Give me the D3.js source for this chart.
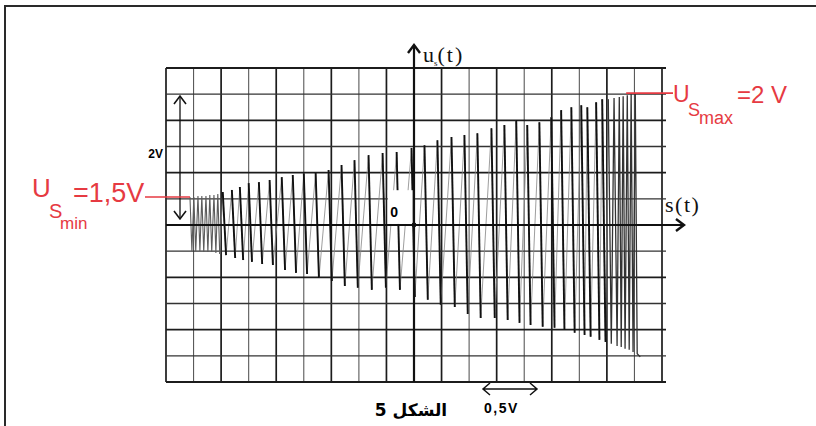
<!DOCTYPE html>
<html lang="ar">
<head>
<meta charset="UTF-8">
<script src="https://d3js.org/d3.v7.min.js"></script>
<title>الشكل 5</title>
<style>
  body { margin: 0; background: #fff; }
  svg { display: block; }
</style>
</head>
<body>
<script>
// screen divisions: 18 columns, 12 rows, origin in the middle
const xDomain = [-9, 9];
const yDomain = [-6, 6];

// dense start of the trace (t in columns, u in rows), alternating crest / trough
const leftT = [-8.13, -8.06, -7.99, -7.92, -7.84, -7.77, -7.70, -7.63, -7.55, -7.48, -7.41, -7.34, -7.26, -7.19, -7.12, -7.05];
const leftU = [1.07, -0.99, 1.07, -0.99, 1.11, -0.99, 1.11, -1.03, 1.11, -1.03, 1.15, -1.03, 1.15, -1.07, 1.18, -1.11];

// separate spikes: crest then trough
const crestT = [-6.94, -6.61, -6.32, -6.00, -5.63, -5.24, -4.80, -4.40, -4.00, -3.57,
  -3.10, -2.63, -2.16, -1.65, -1.14, -0.63, -0.09, 0.38, 0.85, 1.36,
  1.83, 2.30, 2.81, 3.28, 3.71, 4.11, 4.55, 4.98, 5.34, 5.71,
  6.07, 6.29, 6.61, 6.83];
const crestU = [1.26, 1.34, 1.45, 1.60, 1.64, 1.72, 1.83, 1.91, 1.98, 2.02,
  2.10, 2.29, 2.48, 2.67, 2.75, 2.79, 2.94, 3.05, 3.24, 3.36,
  3.44, 3.51, 3.70, 3.82, 4.01, 3.82, 3.93, 4.12, 4.39, 4.50,
  4.58, 4.50, 4.69, 4.81];
const troughT = [-6.82, -6.49, -6.20, -5.88, -5.51, -5.12, -4.68, -4.28, -3.88, -3.45,
  -2.98, -2.51, -2.04, -1.53, -1.02, -0.51, 0.03, 0.50, 0.97, 1.48,
  1.95, 2.42, 2.93, 3.40, 3.83, 4.23, 4.67, 5.10, 5.46, 5.83,
  6.19, 6.41, 6.73, 6.95];
const troughU = [-1.15, -1.26, -1.34, -1.41, -1.49, -1.53, -1.72, -1.83, -1.87, -2.02,
  -2.14, -2.33, -2.40, -2.48, -2.40, -2.48, -2.75, -2.86, -3.05, -3.13,
  -3.40, -3.55, -3.55, -3.63, -3.74, -3.82, -3.89, -3.93, -4.01, -4.12,
  -4.20, -4.27, -4.39, -4.47];

// dense end of the trace
const rightT = [7.05, 7.16, 7.26, 7.37, 7.45, 7.52, 7.59, 7.66, 7.74, 7.81, 7.88, 7.95, 8.03, 8.10, 8.21];
const rightU = [4.81, -4.54, 4.85, -4.62, 4.89, -4.66, 4.92, -4.73, 4.96, -4.77, 5.04, -4.85, 5.04, -4.92, -5.04];

// annotation levels (rows)
const uMin = 1.07;
const uMax = 5.04;
const span2V = [0.23, 4.93];

const W = 816, H = 426;
const svg = d3.select("body").append("svg")
  .attr("width", W).attr("height", H);

const x = d3.scaleLinear().domain(xDomain).range([166, 662]);
const y = d3.scaleLinear().domain(yDomain).range([382, 68]);

// frame (only top and left edges show)
svg.append("path")
  .attr("d", `M5,${H} L5,6 L${W},6`)
  .attr("fill", "none").attr("stroke", "#2a2a2a").attr("stroke-width", 2);

// grid
const grid = svg.append("g");
x.ticks(18).forEach((t, i) => {
  const strong = i % 2 === 0;
  grid.append("line")
    .attr("x1", x(t)).attr("x2", x(t))
    .attr("y1", y(-6)).attr("y2", y(6))
    .attr("stroke", strong ? "#1c1c1c" : "#5a5a5a")
    .attr("stroke-width", strong ? 1.7 : 1.1);
});
y.ticks(12).forEach((t, i) => {
  const strong = i % 2 === 0;
  grid.append("line")
    .attr("x1", x(-9)).attr("x2", x(9) + 4)
    .attr("y1", y(t)).attr("y2", y(t))
    .attr("stroke", strong ? "#1c1c1c" : "#333")
    .attr("stroke-width", strong ? 1.8 : 1.4);
});

// trace
const line = d3.line().x(d => x(d.t)).y(d => y(d.u));
const pts = (ts, us) => ts.map((t, i) => ({ t: t, u: us[i] }));
const leftPts = pts(leftT, leftU);
const rightPts = pts(rightT, rightU);
const crests = pts(crestT, crestU);
const troughs = pts(troughT, troughU);

// faint retrace from each trough to the next crest
const retrace = [leftPts[leftPts.length - 1]];
crests.forEach((c, i) => { retrace.push(c, troughs[i]); });
retrace.push(rightPts[0]);
svg.append("path").datum(retrace)
  .attr("d", line).attr("fill", "none")
  .attr("stroke", "#858585").attr("stroke-width", 0.8);

svg.append("path").datum(leftPts)
  .attr("d", line).attr("fill", "none")
  .attr("stroke", "#5c5c5c").attr("stroke-width", 1.1);
svg.append("path").datum(rightPts)
  .attr("d", line).attr("fill", "none")
  .attr("stroke", "#333").attr("stroke-width", 1.3);

// bright spikes: crest down to trough
svg.append("g").selectAll("path.spike")
  .data(crests)
  .join("path")
  .attr("class", "spike")
  .attr("d", (c, i) => line([c, troughs[i]]))
  .attr("fill", "none")
  .attr("stroke", "#111").attr("stroke-width", 1.9);

// axes
const x0 = x(0), y0 = y(0);
svg.append("line")
  .attr("x1", x0).attr("x2", x0).attr("y1", y(-6)).attr("y2", 45)
  .attr("stroke", "#111").attr("stroke-width", 2.2);
svg.append("path")
  .attr("d", `M${x0 - 6},${53} L${x0},${45} L${x0 + 6},${53}`)
  .attr("fill", "none").attr("stroke", "#111").attr("stroke-width", 2.4);
svg.append("line")
  .attr("x1", x(-9)).attr("x2", 684).attr("y1", y0).attr("y2", y0)
  .attr("stroke", "#111").attr("stroke-width", 2.2);
svg.append("path")
  .attr("d", `M676,${y0 - 6} L684,${y0} L676,${y0 + 6}`)
  .attr("fill", "none").attr("stroke", "#111").attr("stroke-width", 2.4);

// origin label on white patch
svg.append("rect")
  .attr("x", x(-0.95)).attr("y", y(1.33))
  .attr("width", x(-0.05) - x(-0.95)).attr("height", y(0.04) - y(1.33))
  .attr("fill", "#fff");
svg.append("text")
  .attr("x", x(-0.72)).attr("y", y(0.3))
  .attr("text-anchor", "middle")
  .style("font", "bold 14px 'Liberation Sans', Arial, sans-serif")
  .text("0");
svg.append("circle").attr("cx", x0).attr("cy", y0).attr("r", 2.4).attr("fill", "#111");

// axis names
const serif = "'Liberation Serif', 'Times New Roman', serif";
const uLab = svg.append("text").attr("x", x0 + 9).attr("y", 62)
  .style("font-family", serif).style("font-size", "22px").attr("fill", "#111");
uLab.append("tspan").text("u");
uLab.append("tspan").attr("dy", 4).style("font-size", "9px").text("s");
uLab.append("tspan").attr("dy", -4).attr("letter-spacing", 2).text("(t)");

svg.append("text").attr("x", 665).attr("y", 212)
  .style("font-family", serif).style("font-size", "22px")
  .attr("letter-spacing", 1.5).attr("fill", "#111")
  .text("s(t)");

// 2V double arrow
const ax = 180;
svg.append("line")
  .attr("x1", ax).attr("x2", ax).attr("y1", y(span2V[0])).attr("y2", y(span2V[1]))
  .attr("stroke", "#111").attr("stroke-width", 1.3);
svg.append("path")
  .attr("d", `M${ax - 6},${y(span2V[1]) + 8} L${ax},${y(span2V[1])} L${ax + 6},${y(span2V[1]) + 8}`
    + ` M${ax - 6},${y(span2V[0]) - 8} L${ax},${y(span2V[0])} L${ax + 6},${y(span2V[0]) - 8}`)
  .attr("fill", "none").attr("stroke", "#111").attr("stroke-width", 1.6);
svg.append("text").attr("x", 163).attr("y", 158)
  .attr("text-anchor", "end")
  .style("font", "bold 12px 'Liberation Sans', Arial, sans-serif")
  .text("2V");

// red annotations
const red = "#e63a42";
const sans = "'Liberation Sans', Arial, sans-serif";
svg.append("line")
  .attr("x1", 145).attr("x2", x(leftT[0])).attr("y1", y(uMin)).attr("y2", y(uMin))
  .attr("stroke", red).attr("stroke-width", 1.6);
svg.append("line")
  .attr("x1", x(7.7)).attr("x2", 673).attr("y1", y(uMax)).attr("y2", y(uMax))
  .attr("stroke", red).attr("stroke-width", 1.6);

const redText = (tx, ty, size, str) => svg.append("text")
  .attr("x", tx).attr("y", ty).attr("fill", red)
  .style("font-family", sans).style("font-size", size + "px").text(str);

redText(32, 197, 26, "U");
redText(49, 218, 20, "S");
redText(60, 229, 17, "min");
redText(73, 202, 27, "=1,5V");

redText(673, 102, 23, "U");
redText(688, 116, 18, "S");
redText(699, 124, 18, "max");
redText(737, 103, 24, "=2 V");

// caption and horizontal scale arrow
svg.append("text")
  .attr("x", 411).attr("y", 416)
  .attr("text-anchor", "middle")
  .attr("direction", "rtl")
  .style("font", "bold 17px 'DejaVu Sans', sans-serif")
  .text("الشكل 5");

svg.append("path")
  .attr("d", "M483,389 L537,389 M490,383 L483,389 L490,395 M530,383 L537,389 L530,395")
  .attr("fill", "none").attr("stroke", "#111").attr("stroke-width", 1.5);
svg.append("text")
  .attr("x", 484).attr("y", 413)
  .attr("letter-spacing", 1.5)
  .style("font", "bold 14px 'Liberation Sans', Arial, sans-serif")
  .text("0,5V");
</script>
</body>
</html>
